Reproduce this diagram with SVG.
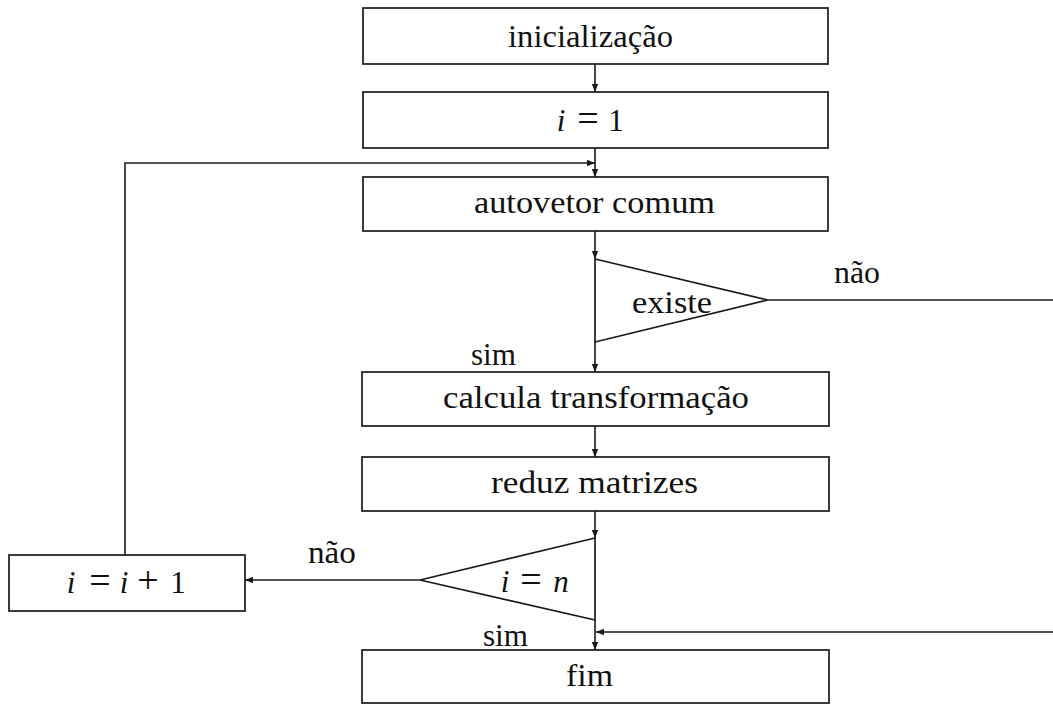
<svg xmlns="http://www.w3.org/2000/svg" width="1053" height="704" viewBox="0 0 1053 704">
  <style>
    .box { fill: #fff; stroke: #1a1a1a; stroke-width: 1.7; }
    .tri { fill: #fff; stroke: #1a1a1a; stroke-width: 1.7; stroke-linejoin: miter; }
    .edge { fill: none; stroke: #1a1a1a; stroke-width: 1.6; }
    text { font-family: 'Liberation Serif', 'Times New Roman', serif; font-size: 31px; fill: #111; }
    .math { text-anchor: middle; }
    .it { font-style: italic; }
    .op { font-size: 38px; }
  </style>
  <defs>
    <marker id="arrow" viewBox="0 0 10 10" refX="10" refY="5" markerWidth="8" markerHeight="8" markerUnits="userSpaceOnUse" orient="auto">
      <path d="M0,1 L10,5 L0,9 Z" fill="#1a1a1a"/>
    </marker>
  </defs>

  <rect width="1053" height="704" fill="#fff"/>

  <!-- connectors -->
  <g id="connectors">
    <line class="edge" x1="595" y1="64" x2="595" y2="92" marker-end="url(#arrow)"/>
    <line class="edge" x1="595" y1="148" x2="595" y2="177" marker-end="url(#arrow)"/>
    <polyline class="edge" points="125,555 125,163 595,163" marker-end="url(#arrow)"/>
    <line class="edge" x1="595" y1="231" x2="595" y2="259" marker-end="url(#arrow)"/>
    <line class="edge" x1="768" y1="300" x2="1053" y2="300"/>
    <line class="edge" x1="595" y1="342" x2="595" y2="372" marker-end="url(#arrow)"/>
    <line class="edge" x1="595" y1="426" x2="595" y2="457" marker-end="url(#arrow)"/>
    <line class="edge" x1="595" y1="511" x2="595" y2="538" marker-end="url(#arrow)"/>
    <line class="edge" x1="420" y1="580" x2="245" y2="580" marker-end="url(#arrow)"/>
    <line class="edge" x1="595" y1="620" x2="595" y2="650" marker-end="url(#arrow)"/>
    <line class="edge" x1="1053" y1="632" x2="596" y2="632" marker-end="url(#arrow)"/>
    <text x="834" y="283" textLength="46" lengthAdjust="spacingAndGlyphs">não</text>
    <text x="471" y="365" textLength="45" lengthAdjust="spacingAndGlyphs">sim</text>
    <text x="308" y="563" textLength="48" lengthAdjust="spacingAndGlyphs">não</text>
    <text x="483" y="646" textLength="45" lengthAdjust="spacingAndGlyphs">sim</text>
  </g>

  <g id="init">
    <rect class="box" x="363" y="8" width="465" height="56"/>
    <text x="508" y="47" textLength="165" lengthAdjust="spacingAndGlyphs">inicialização</text>
  </g>

  <g id="set-i">
    <rect class="box" x="363" y="92" width="465" height="56"/>
    <text class="math" y="131"><tspan class="it" x="561">i</tspan><tspan class="op" x="588">=</tspan><tspan x="616">1</tspan></text>
  </g>

  <g id="eigvec">
    <rect class="box" x="363" y="177" width="465" height="54"/>
    <text x="474" y="213" textLength="241" lengthAdjust="spacingAndGlyphs">autovetor comum</text>
  </g>

  <g id="exists">
    <polygon class="tri" points="595,259 768,300 595,342"/>
    <text x="632" y="313" textLength="80" lengthAdjust="spacingAndGlyphs">existe</text>
  </g>

  <g id="transform">
    <rect class="box" x="362" y="372" width="467" height="54"/>
    <text x="443" y="408" textLength="306" lengthAdjust="spacingAndGlyphs">calcula transformação</text>
  </g>

  <g id="reduce">
    <rect class="box" x="362" y="457" width="467" height="54"/>
    <text x="491" y="493" textLength="207" lengthAdjust="spacingAndGlyphs">reduz matrizes</text>
  </g>

  <g id="last">
    <polygon class="tri" points="595,538 420,580 595,620"/>
    <text class="math" y="592"><tspan class="it" x="505">i</tspan><tspan class="op" x="531">=</tspan><tspan class="it" x="561">n</tspan></text>
  </g>

  <g id="incr">
    <rect class="box" x="9" y="555" width="236" height="56"/>
    <text class="math" y="593"><tspan class="it" x="71">i</tspan><tspan class="op" x="100">=</tspan><tspan class="it" x="124">i</tspan><tspan class="op" x="148">+</tspan><tspan x="178">1</tspan></text>
  </g>

  <g id="end">
    <rect class="box" x="362" y="650" width="467" height="53"/>
    <text x="566" y="686" textLength="47" lengthAdjust="spacingAndGlyphs">fim</text>
  </g>
</svg>
